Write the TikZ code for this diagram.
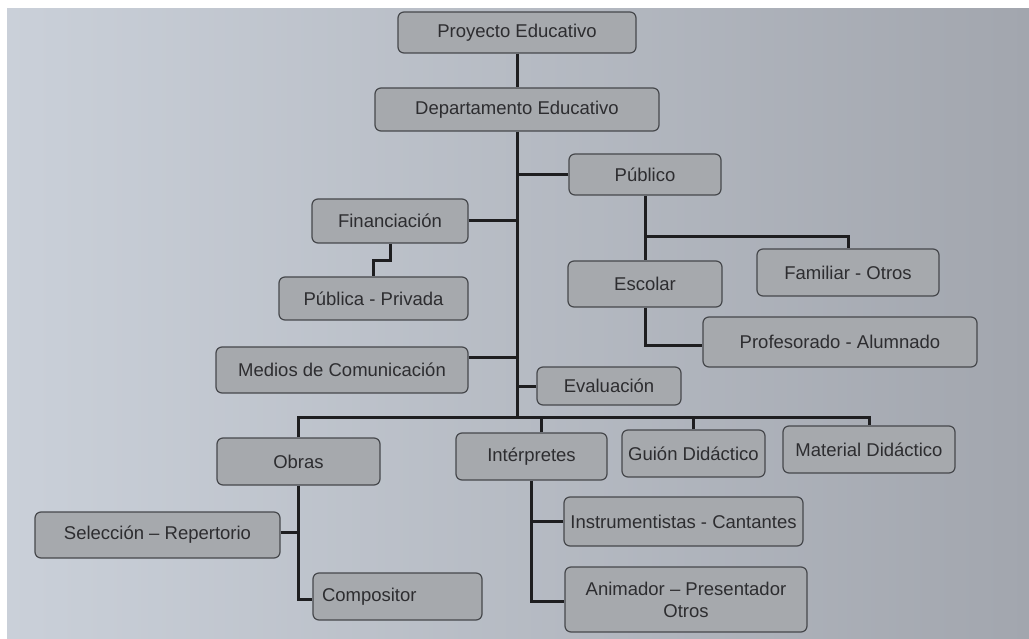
\documentclass[tikz,border=0pt]{standalone}
\usepackage{fontspec}
\setmainfont{Liberation Sans}
\definecolor{bgL}{RGB}{202,208,217}
\definecolor{bgR}{RGB}{162,166,174}
\definecolor{boxfill}{RGB}{166,169,173}
\definecolor{boxline}{RGB}{70,72,76}
\definecolor{lineclr}{RGB}{30,30,32}
\definecolor{txt}{RGB}{45,45,48}
\begin{document}
\begin{tikzpicture}[x=1pt,y=-1pt,
  box/.style={draw=boxline, line width=1.2pt, fill=boxfill, rounded corners=6pt,
    text=txt, font=\fontsize{18.5}{22}\selectfont, inner sep=0pt, align=center},
  conn/.style={draw=lineclr, line width=3pt}]
\fill[white] (0,0) rectangle (1029,639);
\shade[left color=bgL, right color=bgR] (7,9) rectangle (1029,639);
\useasboundingbox (0,0) rectangle (1029,639);

\node[box, minimum width=238pt, minimum height=41pt] (proy) at (517,32.5) {Proyecto Educativo};
\node[box, minimum width=284pt, minimum height=43pt] (dep) at (517,109.5) {Departamento Educativo};
\node[box, minimum width=152pt, minimum height=41pt] (pub) at (645,174.5) {Público};
\node[box, minimum width=156pt, minimum height=44pt] (fin) at (390,221) {Financiación};
\node[box, minimum width=189pt, minimum height=43pt] (pp) at (373.5,298.5) {Pública - Privada};
\node[box, minimum width=252pt, minimum height=46pt] (med) at (342,370) {Medios de Comunicación};
\node[box, minimum width=144pt, minimum height=38pt] (eva) at (609,386) {Evaluación};
\node[box, minimum width=154pt, minimum height=46pt] (esc) at (645,284) {Escolar};
\node[box, minimum width=182pt, minimum height=47pt] (fam) at (848,272.5) {Familiar - Otros};
\node[box, minimum width=274pt, minimum height=50pt] (prof) at (840,342) {Profesorado - Alumnado};
\node[box, minimum width=163pt, minimum height=47pt] (obras) at (298.5,461.5) {Obras};
\node[box, minimum width=245pt, minimum height=46pt] (sel) at (157.5,535) {Selección – Repertorio};
\node[box, minimum height=47pt, text width=151pt, inner xsep=9pt, align=left] (comp) at (397.5,596.5) {Compositor};
\node[box, minimum width=151pt, minimum height=47pt] (int) at (531.5,456.5) {Intérpretes};
\node[box, minimum width=143pt, minimum height=47pt] (guion) at (693.5,453.5) {Guión Didáctico};
\node[box, minimum width=172pt, minimum height=47pt] (mat) at (869,449.5) {Material Didáctico};
\node[box, minimum width=239pt, minimum height=49pt] (inst) at (683.5,521.5) {Instrumentistas - Cantantes};
\node[box, minimum width=242pt, minimum height=65pt] (anim) at (686,599.5) {Animador – Presentador\\Otros};

\coordinate (bus) at (517,417);
\coordinate (pubbus) at (645,237);

\draw[conn] (proy.south) -- (dep.north);
\draw[conn] (dep.south) -- (bus);
\draw[conn] (pub.west) -- (pub.west -| dep.south);
\draw[conn] (fin.east) -- (fin.east -| dep.south);
\draw[conn] ([yshift=13pt]med.east) -- ([yshift=13pt]med.east -| dep.south);
\draw[conn] (eva.west) -- (eva.west -| dep.south);
\draw[conn] (fin.south) -- ++(0,17) -| (pp.north);
\draw[conn] (pub.south) -- (esc.north);
\draw[conn] (pubbus) -| (fam.north);
\draw[conn] (esc.south) |- ([yshift=-4pt]prof.west);
\draw[conn] (obras.north) |- (mat.north |- bus) -- (mat.north);
\draw[conn] ([xshift=10pt]int.north) -- ([xshift=10pt]int.north |- bus);
\draw[conn] (guion.north) -- (guion.north |- bus);
\draw[conn] (obras.south) |- ([yshift=-3pt]comp.west);
\draw[conn] ([yshift=3pt]sel.east) -- ([yshift=3pt]sel.east -| obras.south);
\draw[conn] (int.south) |- ([yshift=-2pt]anim.west);
\draw[conn] (inst.west) -- (inst.west -| int.south);
\end{tikzpicture}
\end{document}
